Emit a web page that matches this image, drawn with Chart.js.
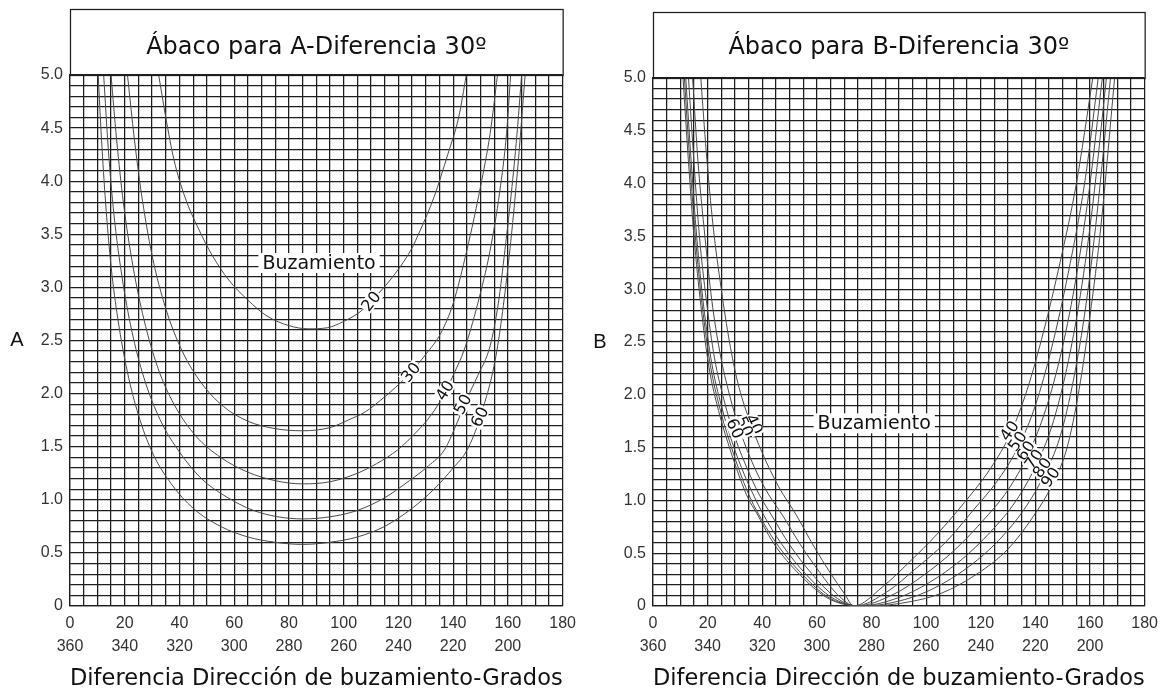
<!DOCTYPE html>
<html><head><meta charset="utf-8">
<script src="https://cdn.jsdelivr.net/npm/chart.js@4/dist/chart.umd.min.js"></script>
<style>
body{margin:0;background:#fff;width:1164px;height:694px;overflow:hidden;position:relative}
canvas{position:absolute;top:0}
#ca{left:0}#cb{left:582px}
</style></head><body>
<canvas id="ca" width="582" height="694"></canvas>
<canvas id="cb" width="582" height="694"></canvas>
<script>
// ---- data: [direction difference (deg), value] ----
const dipsA = [20, 30, 40, 50, 60];
const curveA20 = [[32.4,5.0],[35,4.6],[38,4.2],[42,3.85],[47,3.55],[52,3.3],[58,3.07],[65,2.88],[72,2.73],[80,2.64],[87,2.61],[94,2.62],[100,2.68],[106,2.77],[110,2.87],[117,3.07],[124.5,3.35],[128,3.54],[133,3.85],[138,4.25],[142,4.6],[144.8,5.0]];
const curveA30 = [[21,5.0],[23.5,4.4],[26,3.9],[30,3.3],[35,2.8],[41,2.4],[48,2.1],[56,1.88],[65,1.74],[75,1.67],[85,1.65],[95,1.68],[101.6,1.75],[108,1.83],[113.6,1.94],[119,2.06],[124.5,2.2],[130,2.37],[135.5,2.57],[140,2.85],[145,3.35],[150,3.95],[153.5,4.45],[156.2,5.0]];
const curveA40 = [[15,5.0],[17,4.4],[19.5,3.8],[23,3.2],[27,2.7],[32,2.25],[38,1.9],[46,1.6],[55,1.4],[65,1.26],[75,1.18],[85,1.15],[95,1.17],[105,1.25],[112,1.34],[119.7,1.47],[127,1.65],[132,1.8],[136.8,2.0],[140.5,2.2],[144,2.41],[149,2.85],[153.5,3.35],[157,3.9],[159.5,4.45],[161,5.0]];
const curveA50 = [[12.3,5.0],[14,4.3],[16,3.7],[19,3.1],[22.5,2.6],[27,2.15],[33,1.75],[40,1.45],[48,1.2],[57,1.03],[67,0.9],[76,0.84],[85,0.82],[95,0.84],[105,0.9],[115,1.02],[124,1.18],[131,1.32],[136.8,1.47],[141,1.7],[145,1.95],[149,2.17],[153.5,2.45],[156.5,2.85],[158.9,3.35],[161.5,3.95],[163.5,4.5],[165,5.0]];
const curveA60 = [[10.3,5.0],[11.5,4.4],[13,3.8],[15,3.2],[17.5,2.7],[21,2.2],[25,1.8],[30,1.45],[37,1.15],[45,0.92],[55,0.75],[65,0.65],[75,0.6],[85,0.58],[95,0.6],[105,0.65],[115,0.75],[125,0.92],[133,1.1],[140,1.3],[145.1,1.47],[149.9,1.78],[156,2.41],[160.7,3.35],[163.5,4.1],[166.3,5.0]];

const dipsB = [40, 50, 60, 70, 80, 90];
const curveB40 = [[17.5,5.0],[19.5,4.3],[22,3.6],[25,3.0],[28,2.5],[31,2.12],[35,1.78],[40,1.45],[46,1.13],[52.5,0.86],[59,0.56],[65,0.31],[70,0.12],[73.5,0.0],[84,0.18],[94,0.42],[104,0.68],[114,0.98],[123.5,1.3],[131,1.64],[137,2.05],[143,2.6],[149,3.25],[155,4.0],[161,5.0]];
const curveB50 = [[14.5,5.0],[16.5,4.2],[19,3.5],[21.5,2.9],[24.5,2.4],[28,2.0],[32,1.65],[37,1.32],[42,1.07],[47.4,0.86],[54,0.58],[61,0.32],[67.5,0.11],[74,0.0],[86,0.14],[96,0.35],[107,0.6],[117,0.9],[126.5,1.2],[134,1.52],[140,1.9],[146,2.45],[152,3.15],[158,4.0],[163,5.0]];
const curveB60 = [[13,5.0],[15,4.2],[17,3.5],[19.5,2.9],[22.5,2.35],[26,1.95],[30,1.6],[35,1.27],[39,1.05],[43.4,0.86],[50,0.58],[58,0.31],[66.5,0.09],[74.5,0.0],[88,0.11],[99,0.29],[110,0.52],[120.5,0.8],[130,1.1],[137,1.42],[143,1.8],[149,2.35],[154.5,3.05],[159.5,3.9],[164.5,5.0]];
const curveB70 = [[12,5.0],[14,4.2],[16,3.5],[18.5,2.85],[21.5,2.3],[25,1.9],[29,1.55],[33.5,1.24],[37,1.04],[40.1,0.88],[47,0.59],[56,0.3],[65.5,0.08],[75.5,0.0],[90,0.08],[101,0.22],[113,0.44],[123.5,0.7],[133,1.0],[140,1.32],[146,1.7],[151.5,2.25],[156.5,2.95],[161,3.8],[166,5.0]];
const curveB80 = [[11.5,5.0],[13.5,4.2],[15.5,3.5],[18,2.85],[21,2.28],[24.5,1.87],[28.5,1.52],[32.5,1.22],[35.5,1.03],[38,0.9],[45,0.6],[55,0.29],[65,0.07],[77,0.0],[92,0.06],[103,0.17],[115.5,0.37],[126.5,0.62],[136,0.92],[143,1.23],[149,1.6],[154,2.15],[158.5,2.85],[162.5,3.7],[167.5,5.0]];
const curveB90 = [[11,5.0],[13,4.2],[15,3.5],[17.5,2.85],[20.5,2.26],[24,1.85],[28,1.5],[32,1.2],[35,1.01],[37.5,0.9],[44,0.6],[54,0.29],[65,0.06],[79,0.0],[94,0.04],[105.5,0.12],[119,0.31],[130,0.54],[139,0.84],[146,1.14],[151.6,1.5],[156,2.05],[160,2.75],[164,3.6],[169,5.0]];

const xTickTop = [0,20,40,60,80,100,120,140,160,180];
const xTickBottom = ['360','340','320','300','280','260','240','220','200',''];
const yTickLabels = ['0','0.5','1.0','1.5','2.0','2.5','3.0','3.5','4.0','4.5','5.0'];

const titleA = 'Ábaco para A-Diferencia 30º';
const titleB = 'Ábaco para B-Diferencia 30º';
const axisTitle = 'Diferencia Dirección de buzamiento-Grados';

// annotation placement (data coordinates) for curve labels
const labelsA = [
  {t:'20', x:110, y:2.87, r:-52},
  {t:'30', x:124.5, y:2.2, r:-50},
  {t:'40', x:137, y:2.03, r:-58},
  {t:'50', x:143.5, y:1.9, r:-62},
  {t:'60', x:149.7, y:1.78, r:-65}
];
const labelsB = [
  {t:'40', x:37, y:1.72, r:65},
  {t:'50', x:33.5, y:1.7, r:65},
  {t:'60', x:30, y:1.68, r:65},
  {t:'40', x:130.5, y:1.66, r:-55},
  {t:'50', x:133.5, y:1.56, r:-55},
  {t:'60', x:136.5, y:1.47, r:-55},
  {t:'70', x:139.5, y:1.39, r:-55},
  {t:'80', x:142.5, y:1.31, r:-55},
  {t:'90', x:145.5, y:1.22, r:-55}
];

const LINE = '#4a4a4a';
const GRID = '#1e1e1e';
const TICKC = '#333';

function ds(points, label){
  return {label, data: points.map(p=>({x:p[0], y:p[1]})), showLine:true, borderColor:LINE, borderWidth:1,
    pointRadius:0, fill:false, tension:0.4, cubicInterpolationMode:'monotone'};
}

function deco(title, frameTop, titleY, letter, buzX, buzY, labels){
  return {
    id:'deco',
    afterDraw(chart){
      const {ctx, chartArea:a, scales:{x, y}} = chart;
      ctx.save();
      ctx.strokeStyle = GRID; ctx.lineWidth = 1.25;
      ctx.strokeRect(a.left+0.5, frameTop+0.5, a.right-a.left, a.top-frameTop);
      ctx.fillStyle = '#111';
      ctx.font = '24px "DejaVu Sans"';
      ctx.textAlign = 'center'; ctx.textBaseline = 'middle';
      ctx.fillText(title, (a.left+a.right)/2, titleY);
      ctx.font = '20px "Liberation Sans"';
      ctx.fillText(letter, a.left - 53, y.getPixelForValue(2.5));
      ctx.font = '19px "DejaVu Sans"';
      const bx = x.getPixelForValue(buzX), by = y.getPixelForValue(buzY);
      const w = ctx.measureText('Buzamiento').width;
      ctx.fillStyle = '#fff';
      ctx.fillRect(bx - w/2 - 4, by - 10, w + 8, 20);
      ctx.fillStyle = '#111';
      ctx.fillText('Buzamiento', bx, by + 1);
      ctx.font = '16px "DejaVu Sans"';
      labels.forEach(l=>{
        const px = x.getPixelForValue(l.x), py = y.getPixelForValue(l.y);
        ctx.save();
        ctx.translate(px, py);
        ctx.rotate(l.r*Math.PI/180);
        const tw = ctx.measureText(l.t).width;
        ctx.fillStyle = '#fff';
        ctx.fillRect(-tw/2-1, -7, tw+2, 14);
        ctx.fillStyle = '#111';
        ctx.fillText(l.t, 0, 1);
        ctx.restore();
      });
      ctx.restore();
    }
  };
}

function makeOptions(padTop, padRight, yWidth){
  return {
    responsive:false, animation:false,
    layout:{padding:{top:padTop, right:padRight, left:0, bottom:0}},
    plugins:{legend:{display:false}, tooltip:{enabled:false}, title:{display:false}},
    scales:{
      x:{type:'linear', min:0, max:180,
        afterFit(s){ s.height = 88; },
        afterBuildTicks(s){ s.ticks = []; for(let v=0; v<=180; v+=5) s.ticks.push({value:v}); },
        grid:{color:GRID, lineWidth:1.25, drawTicks:false},
        border:{color:GRID, width:1.25},
        ticks:{autoSkip:false, maxRotation:0, padding:6, color:TICKC,
          font:{family:'"Liberation Sans", Arial', size:16, lineHeight:1.45},
          callback(v){ const i = xTickTop.indexOf(v); return i<0 ? '' : [String(xTickTop[i]), xTickBottom[i]]; }},
        title:{display:true, text:axisTitle, color:'#111', font:{family:'"DejaVu Sans"', size:23, lineHeight:1.2}, padding:{top:0,bottom:1}}
      },
      y:{type:'linear', min:0, max:5,
        afterFit(s){ s.width = yWidth; },
        afterBuildTicks(s){ s.ticks = []; for(let i=0; i<=50; i++) s.ticks.push({value:i/10}); },
        grid:{color:GRID, lineWidth:1.25, drawTicks:false},
        border:{color:GRID, width:1.25},
        ticks:{autoSkip:false, padding:7, color:TICKC,
          font:{family:'"Liberation Sans", Arial', size:16},
          callback(v){ const r = Math.round(v*10); return r%5 ? '' : yTickLabels[r/5]; }}
      }
    }
  };
}

new Chart(document.getElementById('ca'), {
  type:'scatter',
  data:{datasets:[ds(curveA20,'20'),ds(curveA30,'30'),ds(curveA40,'40'),ds(curveA50,'50'),ds(curveA60,'60')]},
  options:makeOptions(75, 16, 70),
  plugins:[deco(titleA, 9, 48, 'A', 91, 3.23, labelsA)]
});
new Chart(document.getElementById('cb'), {
  type:'scatter',
  data:{datasets:[ds(curveB40,'40'),ds(curveB50,'50'),ds(curveB60,'60'),ds(curveB70,'70'),ds(curveB80,'80'),ds(curveB90,'90')]},
  options:makeOptions(78, 17, 71),
  plugins:[deco(titleB, 12, 48, 'B', 81, 1.73, labelsB)]
});
</script>
</body></html>
